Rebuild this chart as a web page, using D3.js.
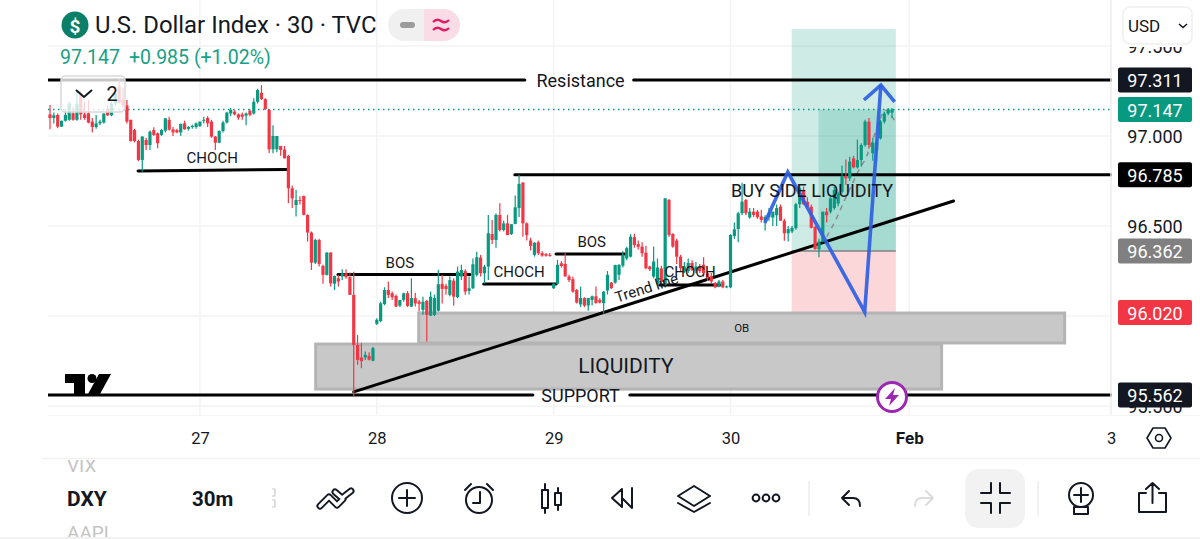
<!DOCTYPE html>
<html><head><meta charset="utf-8">
<style>html,body{margin:0;padding:0;background:#fff;overflow:hidden}svg{display:block;font-family:Roboto,sans-serif}</style>
<script src="https://cdn.jsdelivr.net/npm/d3@7"></script></head><body>
<svg id="c" width="1200" height="539"></svg>
<script>
// [open, high, low, close]
const session26=[[97.12,97.172,97.037,97.10],[97.10,97.13,97.07,97.115],[97.117,97.125,97.043,97.052],[97.052,97.085,97.05,97.085],[97.085,97.15,97.08,97.117],[97.09,97.19,97.085,97.18],[97.126,97.16,97.085,97.09],[97.09,97.25,97.085,97.18],[97.24,97.25,97.09,97.12],[97.12,97.19,97.09,97.1],[97.126,97.2,97.07,97.075],[97.08,97.1,97.02,97.05],[97.05,97.117,97.04,97.07],[97.07,97.09,97.06,97.08],[97.075,97.125,97.07,97.125],[97.15,97.17,97.11,97.115],[97.115,97.19,97.11,97.18],[97.18,97.24,97.17,97.237],[97.275,97.32,97.18,97.185],[97.2,97.27,97.16,97.17],[97.17,97.2,97.07,97.08],[97.09,97.09,96.97,96.972],[97.033,97.04,96.965,96.972],[96.972,96.98,96.86,96.867],[96.867,96.998,96.802,96.997],[96.978,96.99,96.923,96.95],[96.95,97.03,96.923,97.024],[97.033,97.048,97.0,97.006],[97.015,97.02,96.932,96.96],[97.006,97.04,97.0,97.033],[97.03,97.1,97.02,97.098],[97.09,97.107,97.03,97.035],[97.037,97.05,97.0,97.02],[97.033,97.04,97.015,97.02],[97.02,97.07,97.0,97.067],[97.07,97.085,97.035,97.037],[97.04,97.055,97.03,97.05],[97.05,97.062,97.04,97.056],[97.05,97.075,97.04,97.07],[97.056,97.08,97.05,97.08]];
const session27=[[97.085,97.107,97.07,97.09],[97.1,97.11,97.05,97.07],[97.08,97.09,96.99,96.997],[96.997,97.0,96.923,96.963],[96.963,97.03,96.96,97.028],[97.028,97.085,97.02,97.075],[97.075,97.135,97.07,97.13],[97.125,97.155,97.11,97.145],[97.135,97.145,97.115,97.12],[97.12,97.125,97.09,97.102],[97.12,97.13,97.09,97.107],[97.113,97.13,97.06,97.125],[97.14,97.15,97.11,97.117],[97.125,97.21,97.12,97.19],[97.19,97.262,97.18,97.255],[97.24,97.283,97.2,97.205],[97.205,97.21,97.145,97.15],[97.145,97.15,96.905,96.926],[96.926,97.06,96.904,97.0],[96.926,97.0,96.91,97.0],[96.945,96.945,96.89,96.923],[96.925,96.945,96.876,96.876],[96.889,96.895,96.627,96.71],[96.71,96.725,96.6,96.654],[96.617,96.7,96.553,96.645],[96.645,96.665,96.62,96.64],[96.667,96.67,96.56,96.562],[96.562,96.565,96.414,96.464],[96.464,96.47,96.256,96.297],[96.297,96.43,96.29,96.423],[96.423,96.43,96.275,96.29],[96.279,96.285,96.18,96.229],[96.229,96.355,96.225,96.353],[96.353,96.355,96.164,96.182],[96.18,96.225,96.145,96.223],[96.21,96.229,96.164,96.192],[96.22,96.26,96.2,96.238],[96.238,96.26,96.207,96.216],[96.216,96.242,96.118,96.118],[96.118,96.247,95.554,95.84],[95.84,95.896,95.729,95.757],[95.77,95.85,95.711,95.75],[95.77,95.803,95.757,95.785],[95.78,95.8,95.753,95.758],[95.752,95.83,95.75,95.822]];
const session28=[[95.957,95.988,95.95,95.98],[95.973,96.08,95.966,96.071],[96.067,96.16,96.06,96.145],[96.145,96.192,96.1,96.118],[96.127,96.136,96.09,96.105],[96.112,96.12,96.05,96.053],[96.058,96.09,96.05,96.09],[96.09,96.13,96.08,96.127],[96.127,96.14,96.05,96.057],[96.053,96.21,96.05,96.1],[96.1,96.13,96.053,96.07],[96.08,96.09,96.025,96.068],[96.035,96.108,96.007,96.08],[96.084,96.09,95.859,96.007],[96.003,96.136,96.0,96.108],[96.007,96.12,96.0,96.1],[96.03,96.257,96.025,96.177],[96.179,96.229,96.07,96.151],[96.168,96.18,96.118,96.15],[96.118,96.22,96.11,96.2],[96.197,96.21,96.058,96.108],[96.105,96.275,96.1,96.247],[96.22,96.285,96.2,96.256],[96.25,96.26,96.118,96.136],[96.14,96.22,96.12,96.155],[96.155,96.32,96.15,96.288],[96.229,96.358,96.22,96.327],[96.325,96.34,96.22,96.238],[96.238,96.285,96.18,96.275],[96.275,96.562,96.2,96.46],[96.456,96.534,96.4,96.423],[96.423,96.57,96.38,96.562],[96.562,96.627,96.47,96.478],[96.478,96.53,96.47,96.515],[96.515,96.562,96.45,96.45],[96.456,96.51,96.45,96.51],[96.512,96.67,96.51,96.604],[96.6,96.785,96.55,96.734],[96.741,96.745,96.44,96.515],[96.515,96.52,96.42,96.45],[96.42,96.435,96.365,96.39],[96.34,96.41,96.33,96.408],[96.41,96.42,96.34,96.349],[96.35,96.36,96.33,96.336],[96.345,96.35,96.33,96.336],[96.34,96.35,96.33,96.335]];
const session29=[[96.155,96.183,96.15,96.18],[96.18,96.312,96.175,96.285],[96.293,96.305,96.27,96.278],[96.29,96.35,96.22,96.22],[96.22,96.23,96.19,96.2],[96.205,96.22,96.13,96.136],[96.145,96.15,96.07,96.075],[96.065,96.164,96.05,96.1],[96.1,96.105,96.05,96.059],[96.059,96.1,96.03,96.1],[96.09,96.115,96.06,96.11],[96.11,96.164,96.07,96.072],[96.09,96.1,96.07,96.075],[96.072,96.14,96.015,96.136],[96.142,96.25,96.12,96.229],[96.186,96.19,96.15,96.155],[96.186,96.285,96.18,96.284],[96.229,96.29,96.2,96.284],[96.28,96.36,96.27,96.34],[96.32,96.385,96.31,96.377],[96.33,96.455,96.325,96.441],[96.438,96.457,96.38,96.395],[96.4,96.42,96.37,96.385],[96.386,96.41,96.33,96.349],[96.352,96.39,96.26,96.266],[96.275,96.28,96.25,96.26],[96.22,96.386,96.21,96.303],[96.18,96.32,96.17,96.27],[96.265,96.28,96.18,96.19],[96.173,96.654,96.16,96.654],[96.645,96.65,96.44,96.45],[96.456,96.46,96.38,96.386],[96.42,96.43,96.29,96.33],[96.33,96.34,96.25,96.266],[96.247,96.3,96.24,96.275],[96.25,96.32,96.24,96.295],[96.295,96.31,96.25,96.256],[96.253,96.3,96.24,96.275],[96.275,96.29,96.24,96.25],[96.285,96.327,96.22,96.238],[96.238,96.25,96.195,96.21],[96.22,96.24,96.18,96.192],[96.183,96.19,96.155,96.16],[96.165,96.2,96.16,96.192],[96.192,96.2,96.155,96.16],[96.16,96.17,96.155,96.165]];
const session30=[[96.16,96.455,96.155,96.45],[96.445,96.52,96.43,96.482],[96.484,96.58,96.41,96.571],[96.571,96.74,96.56,96.636],[96.645,96.65,96.56,96.571],[96.548,96.6,96.54,96.58],[96.58,96.6,96.55,96.562],[96.58,96.59,96.54,96.549],[96.553,96.59,96.52,96.534],[96.53,96.56,96.475,96.55],[96.55,96.6,96.53,96.57],[96.547,96.58,96.5,96.58],[96.56,96.62,96.5,96.6],[96.608,96.62,96.53,96.53],[96.53,96.54,96.419,96.46],[96.46,96.5,96.414,96.483],[96.47,96.5,96.46,96.49],[96.488,96.63,96.48,96.621],[96.621,96.72,96.6,96.71],[96.7,96.72,96.62,96.62],[96.635,96.66,96.6,96.608],[96.608,96.62,96.486,96.491],[96.495,96.5,96.37,96.371],[96.371,96.43,96.327,96.414],[96.414,96.58,96.41,96.58],[96.58,96.6,96.52,96.56],[96.58,96.665,96.57,96.654],[96.6,96.72,96.59,96.7],[96.625,96.69,96.61,96.68],[96.69,96.835,96.68,96.778],[96.778,96.87,96.73,96.765],[96.765,96.885,96.75,96.858],[96.876,96.89,96.82,96.826],[96.826,96.98,96.82,96.867],[96.867,96.96,96.83,96.95],[96.95,97.09,96.94,97.08],[97.08,97.1,96.93,96.95],[96.904,96.99,96.863,96.963],[96.92,96.985,96.86,96.97],[96.987,97.09,96.98,97.08],[97.08,97.135,97.07,97.125],[97.125,97.155,97.115,97.145],[97.13,97.155,97.1,97.147]];
const dayTickBars=[39,85,131,177,223.5,276];
const dayTickLabels=["27","28","29","30","Feb","3"];
const priceTicks=[97.5,97,96.5,96,95.5];
const hiddenPriceLabels=[96];
const priceTags=[[97.311,"#131722"],[97.147,"#089981"],[96.785,"#000000"],[96.362,"#808080"],[96.02,"#f23645"],[95.562,"#131722"]];
// drawings: bar index / price anchors
const structureLines=[[22.9,96.806,61.9,96.814],[74.9,96.231,109.2,96.231],[112.8,96.178,131.6,96.178],[131.6,96.345,149.5,96.345],[158.6,96.173,174.2,96.173],[120.9,96.785,400,96.785]];
const levelLines=[[-1,97.311,123.5,97.311],[151.8,97.311,400,97.311],[-1,95.562,125.6,95.562],[150.8,95.562,400,95.562]];
const trendLine=[79,95.579,235,96.639];
const zones=[[95.9,96.017,263.9,95.851],[69.1,95.845,231.9,95.595]];
const chartLabels=[["CHOCH",42.2,96.878,15],["BOS",91,96.295,15],["CHOCH",122,96.245,15],["BOS",140.9,96.412,15],["CHOCH",166.5,96.245,15],["BUY SIDE LIQUIDITY",198.2,96.7,18],["LIQUIDITY",149.8,95.723,21],["OB",179.9,95.934,11.5],["Resistance",138,97.311,18],["SUPPORT",138,95.562,18]];
const positionTool={left:192.9,right:220,entry:96.362,target:97.594,stop:96.02,fillLeft:199.9,fillTop:97.147};
const forecastPath=[[202,96.44],[204.2,96.525],[206.7,96.645],[210.1,96.8],[212.3,96.88],[216.6,97.133],[217.9,97.146],[219.7,97.085]];
const bluePath=[[185.9,96.517],[191.9,96.8],[211.9,96.023],[216.1,97.283]];
const blueHead=[[211.7,97.2],[216.1,97.283],[219.7,97.189]];

const candles=[...session26,...session27,...session28,...session29,...session30];
const svg=d3.select("#c");
const x=d3.scaleLinear().domain([0,candles.length-1]).range([50,892]);
const y=d3.scaleLinear().domain([95.562,97.311]).range([395,80]);
const defs=svg.append("defs");
defs.append("clipPath").attr("id","plot").append("rect").attr("x",48).attr("y",0).attr("width",1064).attr("height",416);
defs.append("clipPath").attr("id","paxis").append("rect").attr("x",1112).attr("y",47).attr("width",88).attr("height",366);
defs.append("clipPath").attr("id","wheel").append("rect").attr("x",50).attr("y",460).attr("width",120).attr("height",77);
const INK="#131722";

// grid
const g=svg.append("g").attr("clip-path","url(#plot)");
g.selectAll(".gh").data(priceTicks).join("line").attr("x1",48).attr("x2",1112).attr("y1",d=>y(d)).attr("y2",d=>y(d)).attr("stroke","#f3f3f3").attr("stroke-width",1.5);
g.selectAll(".gv").data(dayTickBars).join("line").attr("x1",d=>x(d)).attr("x2",d=>x(d)).attr("y1",0).attr("y2",416).attr("stroke","#f3f3f3").attr("stroke-width",1.5);
svg.append("line").attr("x1",1111).attr("x2",1111).attr("y1",0).attr("y2",416).attr("stroke","#f0f0f0").attr("stroke-width",1.5);
svg.append("line").attr("x1",48).attr("x2",1200).attr("y1",415.5).attr("y2",415.5).attr("stroke","#f6f6f6");

// position tool
const pt=positionTool;
g.append("rect").attr("x",x(pt.left)).attr("width",x(pt.right)-x(pt.left)).attr("y",y(pt.target)).attr("height",y(pt.entry)-y(pt.target)).attr("fill","#089981").attr("fill-opacity",.2);
g.append("rect").attr("x",x(pt.left)).attr("width",x(pt.right)-x(pt.left)).attr("y",y(pt.entry)).attr("height",y(pt.stop)-y(pt.entry)).attr("fill","#f23645").attr("fill-opacity",.2);
g.append("rect").attr("x",x(pt.fillLeft)).attr("width",x(pt.right)-x(pt.fillLeft)).attr("y",y(pt.fillTop)).attr("height",y(pt.entry)-y(pt.fillTop)).attr("fill","#089981").attr("fill-opacity",.2);
g.append("line").attr("x1",x(pt.left)).attr("x2",x(pt.right)).attr("y1",y(pt.entry)).attr("y2",y(pt.entry)).attr("stroke","#808080").attr("stroke-width",1.5);
const ln=d3.line().x(d=>x(d[0])).y(d=>y(d[1]));
g.append("path").attr("d",ln(forecastPath)).attr("fill","none").attr("stroke","#8c8c8c").attr("stroke-width",1.5).attr("stroke-dasharray","5 5");

// zones
g.selectAll(".z").data(zones).join("rect").attr("x",d=>x(d[0])).attr("y",d=>y(d[1])).attr("width",d=>x(d[2])-x(d[0])).attr("height",d=>y(d[3])-y(d[1])).attr("fill","#c8c8c8").attr("stroke","#b4b4b4").attr("stroke-width",3);

// lines
g.selectAll(".l").data([...structureLines,...levelLines,trendLine]).join("line").attr("x1",d=>x(d[0])).attr("y1",d=>y(d[1])).attr("x2",d=>x(d[2])).attr("y2",d=>y(d[3])).attr("stroke","#000").attr("stroke-width",3).attr("stroke-linecap","round");

// last price line
g.append("line").attr("x1",48).attr("x2",1112).attr("y1",y(97.147)).attr("y2",y(97.147)).attr("stroke","#089981").attr("stroke-width",1.5).attr("stroke-dasharray","1.5 3.5");

// candles
const cg=g.append("g");
const col=d=>d[3]>=d[0]?"#089981":"#f23645";
cg.selectAll(".w").data(candles).join("line").attr("x1",(d,i)=>x(i)).attr("x2",(d,i)=>x(i)).attr("y1",d=>y(d[1])).attr("y2",d=>y(d[2])).attr("stroke",col).attr("stroke-width",1.2);
cg.selectAll(".b").data(candles).join("rect").attr("x",(d,i)=>x(i)-1.6).attr("width",3.2).attr("y",d=>y(Math.max(d[0],d[3]))).attr("height",d=>Math.max(1,Math.abs(y(d[0])-y(d[3])))).attr("fill",col);

// blue arrow
g.append("path").attr("d",ln(bluePath)).attr("fill","none").attr("stroke","#2f5fe3").attr("stroke-width",3.6).attr("stroke-opacity",.92).attr("stroke-linejoin","miter");
g.append("path").attr("d",ln(blueHead)).attr("fill","none").attr("stroke","#2f5fe3").attr("stroke-width",3.6).attr("stroke-opacity",.92);

// labels
chartLabels.forEach(d=>{
  svg.append("text").attr("x",x(d[1])).attr("y",y(d[2])).attr("text-anchor","middle").attr("dominant-baseline","central").attr("font-size",d[3]).attr("fill",INK).text(d[0]);
});
svg.append("text").attr("transform",`translate(${x(155.2)},${y(96.156)}) rotate(-17.6)`).attr("text-anchor","middle").attr("dominant-baseline","central").attr("font-size",15).attr("fill",INK).text("Trend line");

// axes
const xAxis=d3.axisBottom(x).tickValues(dayTickBars).tickFormat((d,i)=>dayTickLabels[i]).tickSize(0).tickPadding(0);
const xg=svg.append("g").attr("transform","translate(0,438)").call(xAxis);
xg.select(".domain").remove();
xg.selectAll("text").attr("font-family","Roboto,sans-serif").attr("font-size",(d,i)=>dayTickLabels[i]==="Feb"?17:16.5).attr("fill",INK).attr("dy",null).attr("y",0).attr("dominant-baseline","central").attr("font-weight",(d,i)=>dayTickLabels[i]==="Feb"?700:400);
const yAxis=d3.axisRight(y).tickValues(priceTicks).tickFormat(d=>hiddenPriceLabels.includes(d)?"":d3.format(".3f")(d)).tickSize(0).tickPadding(0);
const yg=svg.append("g").attr("transform","translate(1155,0)").call(yAxis);
yg.select(".domain").remove();
yg.selectAll("text").attr("font-family","Roboto,sans-serif").attr("font-size",18).attr("fill",INK).attr("text-anchor","middle").attr("x",0).attr("dy",null).attr("y",0).attr("dominant-baseline","central");
const yclip=svg.append("g").attr("clip-path","url(#paxis)");yclip.node().appendChild(yg.node());

// price tags
const tg=svg.append("g").selectAll("g").data(priceTags).join("g").attr("transform",d=>`translate(0,${y(d[0])})`);
tg.append("rect").attr("x",1118).attr("y",-12.5).attr("width",74).attr("height",25).attr("rx",2).attr("fill",d=>d[1]);
tg.append("text").attr("x",1155).attr("y",0.5).attr("text-anchor","middle").attr("dominant-baseline","central").attr("font-size",18).attr("fill","#fff").text(d=>d3.format(".3f")(d[0]));

// header
const hd=svg.append("g");
hd.append("circle").attr("cx",75).attr("cy",25).attr("r",13.5).attr("fill","#0a7f68");
hd.append("text").attr("x",75).attr("y",26).attr("text-anchor","middle").attr("dominant-baseline","central").attr("font-size",19).attr("font-weight",700).attr("fill","#fff").text("$");
hd.append("text").attr("x",95).attr("y",33).attr("font-size",23.9).attr("fill",INK).text("U.S. Dollar Index · 30 · TVC");
hd.append("text").attr("x",60).attr("y",63.5).attr("font-size",19.5).attr("fill","#17a085").text("97.147");
hd.append("text").attr("x",129).attr("y",63.5).attr("font-size",19.5).attr("fill","#17a085").text("+0.985 (+1.02%)");
hd.append("path").attr("d","M424 9H404a16 16 0 0 0 0 32H424Z").attr("fill","#f0f0f0");
hd.append("path").attr("d","M424 9H444a16 16 0 0 1 0 32H424Z").attr("fill","#fadce7");
hd.append("rect").attr("x",400).attr("y",22).attr("width",15).attr("height",6).attr("rx",3).attr("fill","#9b9b9b");
hd.append("path").attr("d","M433 22q4-4 8 -1t8-1M433 30q4-4 8-1t8-1").attr("fill","none").attr("stroke","#e5195f").attr("stroke-width",2.4);

// collapsed legend box
hd.append("rect").attr("x",61).attr("y",76).attr("width",64).attr("height",36).attr("rx",4).attr("fill","#fff").attr("fill-opacity",.78).attr("stroke","#d9d9d9").attr("stroke-width",1.5);
hd.append("path").attr("d","M76 90l8 7l8-7").attr("fill","none").attr("stroke",INK).attr("stroke-width",2);
hd.append("text").attr("x",112).attr("y",94).attr("text-anchor","middle").attr("dominant-baseline","central").attr("font-size",20).attr("fill",INK).text("2");

// currency
hd.append("rect").attr("x",1123).attr("y",7).attr("width",69).attr("height",37).attr("rx",7).attr("fill","#fff").attr("stroke","#f0f0f0").attr("stroke-width",1.5);
hd.append("text").attr("x",1128).attr("y",25.5).attr("dominant-baseline","central").attr("font-size",17).attr("fill",INK).text("USD");
hd.append("path").attr("d","M1179 24l4 3.5l4-3.5").attr("fill","none").attr("stroke",INK).attr("stroke-width",1.6);

// logo
const lg=svg.append("g").attr("fill","#000");
lg.append("path").attr("d","M65 374H85V394H74V383H65Z");
lg.append("circle").attr("cx",92).attr("cy",378.5).attr("r",4.5);
lg.append("path").attr("d","M99 374H111L100 394H88Z");

// lightning badge
svg.append("circle").attr("cx",892).attr("cy",397).attr("r",14.5).attr("fill","#fff").attr("stroke","#9c27b0").attr("stroke-width",3);
svg.append("path").attr("d","M895 388L885 399H891L889 406L899 395H893Z").attr("fill","#9c27b0");

// settings
svg.append("path").attr("d","M1153 428H1165L1171 438L1165 448H1153L1147 438Z").attr("fill","none").attr("stroke",INK).attr("stroke-width",1.6).attr("stroke-linejoin","round");
svg.append("circle").attr("cx",1159).attr("cy",438).attr("r",3.5).attr("fill","none").attr("stroke",INK).attr("stroke-width",1.6);

// toolbar
svg.append("line").attr("x1",42).attr("x2",1200).attr("y1",458.5).attr("y2",458.5).attr("stroke","#f1f1f1").attr("stroke-width",1.5);
svg.append("line").attr("x1",0).attr("x2",1200).attr("y1",538).attr("y2",538).attr("stroke","#eeeeee").attr("stroke-width",1.5);
const wh=svg.append("g").attr("clip-path","url(#wheel)");
wh.append("text").attr("x",67).attr("y",465).attr("dominant-baseline","central").attr("font-size",19).attr("fill","#c4c4c4").text("VIX");
wh.append("text").attr("x",67).attr("y",532).attr("dominant-baseline","central").attr("font-size",19).attr("fill","#c4c4c4").text("AAPL");
const tb=svg.append("g");
tb.append("text").attr("x",67).attr("y",499).attr("dominant-baseline","central").attr("font-size",21).attr("font-weight",700).attr("fill",INK).text("DXY");
tb.append("text").attr("x",192).attr("y",499).attr("dominant-baseline","central").attr("font-size",20.5).attr("font-weight",700).attr("fill",INK).text("30m");
tb.append("path").attr("d","M272 489h3v7h-3M272 500h3v7h-3").attr("fill","none").attr("stroke","#c9c9c9").attr("stroke-width",1.2);
const ic=tb.append("g").attr("fill","none").attr("stroke",INK).attr("stroke-width",2).attr("stroke-linecap","round").attr("stroke-linejoin","round");
ic.append("path").attr("d","M320 506L329 497L337 505L343 499M335 492L342 498L351 491").attr("stroke-width",7);
tb.append("path").attr("d","M320 506L329 497L337 505L343 499M335 492L342 498L351 491").attr("fill","none").attr("stroke","#fff").attr("stroke-width",3.2).attr("stroke-linecap","round").attr("stroke-linejoin","round");
ic.append("circle").attr("cx",407).attr("cy",498).attr("r",15);
ic.append("path").attr("d","M399 498H415M407 490V506");
ic.append("circle").attr("cx",479).attr("cy",500).attr("r",13);
ic.append("path").attr("d","M480 492V503H473M465 490L471 484M493 490L487 484");
ic.append("rect").attr("x",542).attr("y",490).attr("width",6).attr("height",18);
ic.append("rect").attr("x",555).attr("y",493).attr("width",6).attr("height",12);
ic.append("path").attr("d","M545 484V490M545 508V513M558 488V493M558 505V510");
ic.append("path").attr("d","M622 489L612 498L622 507ZM632 488V508L622 498");
ic.append("path").attr("d","M694 486L710 496L694 506L678 496ZM678 503L694 512L710 503");
[756,766,776].forEach(c=>ic.append("circle").attr("cx",c).attr("cy",498).attr("r",3.4));
tb.append("line").attr("x1",809).attr("x2",809).attr("y1",481).attr("y2",516).attr("stroke","#ececec").attr("stroke-width",1.5);
ic.append("path").attr("d","M849 491L842 498L849 505M842 498H853Q860 498 860 506");
ic.append("path").attr("d","M926 491L933 498L926 505M933 498H922Q915 498 915 506").attr("stroke","#dcdcdc");
tb.insert("rect",":first-child").attr("x",965).attr("y",469).attr("width",60).attr("height",59).attr("rx",14).attr("fill","#f2f2f2");
ic.append("path").attr("d","M981 493H991V483M1000 483V493H1010M981 503H991V513M1010 503H1000V513");
tb.append("line").attr("x1",1038).attr("x2",1038).attr("y1",481).attr("y2",516).attr("stroke","#ececec").attr("stroke-width",1.5);
ic.append("circle").attr("cx",1081).attr("cy",495).attr("r",12);
ic.append("path").attr("d","M1074 495H1088M1081 488V502M1074 507H1088V514H1074Z");
ic.append("path").attr("d","M1146 493H1139V512H1166V493H1159M1152.5 503V483M1146 489L1152.5 483L1159 489");
</script></body></html>
